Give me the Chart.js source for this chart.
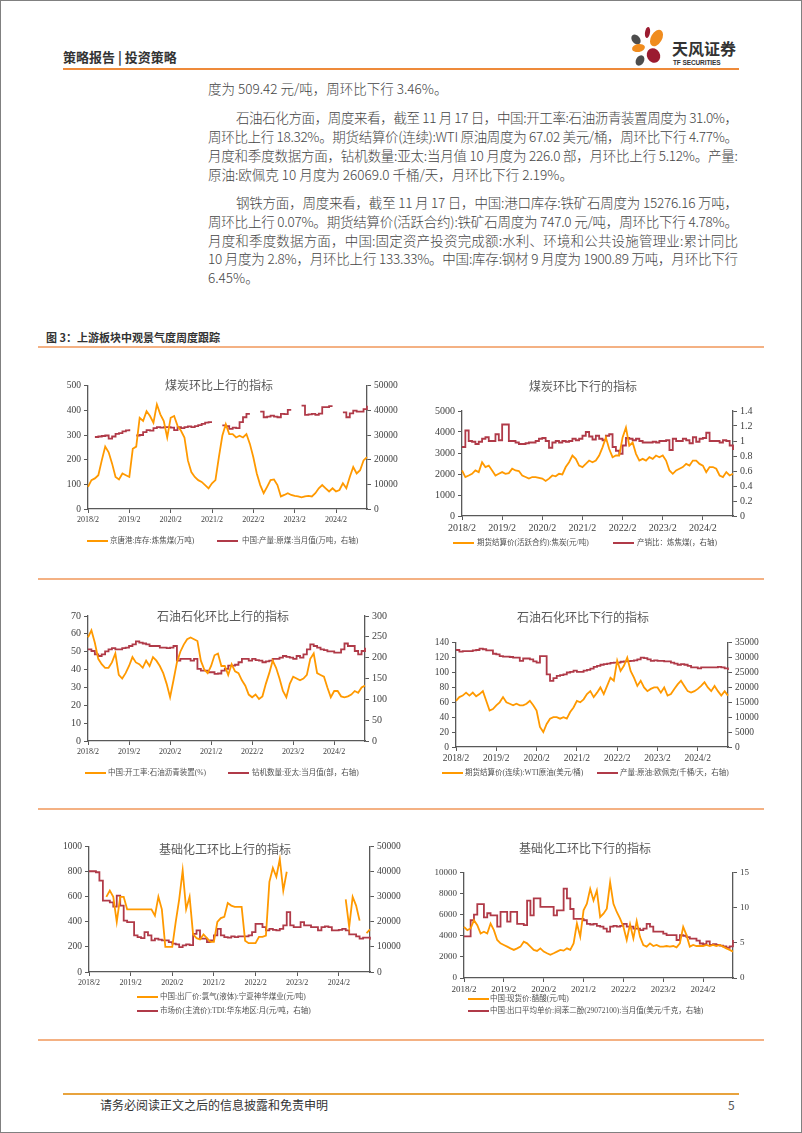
<!DOCTYPE html>
<html>
<head>
<meta charset="utf-8">
<script src="https://cdn.jsdelivr.net/npm/chart.js@4.4.0/dist/chart.umd.min.js"></script>
<style>
body { margin: 0; background: #fff; }
#page { position: relative; width: 802px; height: 1133px; overflow: hidden; background: #fff; font-family: "Noto Sans CJK SC", sans-serif; }
#frame { position: absolute; left: 0; top: 0; right: 0; bottom: 0; border: 1px solid #808080; pointer-events: none; }
.ln { position: absolute; height: 20px; line-height: 20px; font-size: 13.5px; font-weight: 300; color: #454545; white-space: nowrap; }
.title { position: absolute; transform: translate(-50%, -50%); font-family: "Liberation Serif", "Noto Sans CJK SC", serif; font-size: 12px; color: #595959; white-space: nowrap; }
.lgl { position: absolute; width: 21px; height: 2px; }
.lgt { position: absolute; font-family: "Liberation Serif", "Noto Sans CJK SC", serif; font-size: 7.5px; line-height: 10px; color: #505050; white-space: nowrap; }
.rule { position: absolute; left: 38px; width: 726px; height: 1.5px; background: #F4B183; }
.petal { position: absolute; border-radius: 50%; }
canvas { position: absolute; }
</style>
</head>
<body>
<div id="page">
  <!-- 页眉 -->
  <div style="position:absolute;left:63px;top:48px;font-size:13px;font-weight:700;color:#333;line-height:18px;">策略报告 | 投资策略</div>
  <div class="petal" style="left:632px;top:34px;width:8px;height:11px;background:#4d4d4d;transform:rotate(-40deg);"></div>
  <div class="petal" style="left:645px;top:27px;width:5px;height:11px;background:#9b1b30;transform:rotate(10deg);"></div>
  <div class="petal" style="left:651px;top:29px;width:11px;height:18px;background:#f08c1e;transform:rotate(30deg);"></div>
  <div class="petal" style="left:632px;top:44px;width:13px;height:8px;background:#f08c1e;transform:rotate(-10deg);"></div>
  <div class="petal" style="left:647px;top:48px;width:13px;height:15px;background:#9b1b30;transform:rotate(-30deg);"></div>
  <div class="petal" style="left:636px;top:55px;width:8px;height:11px;background:#4d4d4d;transform:rotate(30deg);"></div>
  <div style="position:absolute;left:672px;top:38px;font-size:16px;font-weight:700;color:#333;line-height:20px;">天风证券</div>
  <div style="position:absolute;left:673px;top:59px;font-family:'Liberation Sans',sans-serif;font-size:6.5px;font-weight:700;color:#333;line-height:8px;letter-spacing:-0.1px;">TF SECURITIES</div>
  <div style="position:absolute;left:63px;top:68px;width:676px;height:2px;background:#EE8A3A;"></div>

  <!-- 正文 -->
  <div class="ln" style="left:208px;top:78px;width:530px;"><span>度为 509.42 元/吨，周环比下行 3.46%。</span></div>
  <div class="ln j" style="left:236px;top:107px;width:502px;"><span>石油石化方面，周度来看，截至 11 月 17 日，中国:开工率:石油沥青装置周度为 31.0%，</span></div>
  <div class="ln j" style="left:208px;top:126px;width:530px;"><span>周环比上行 18.32%。期货结算价(连续):WTI 原油周度为 67.02 美元/桶，周环比下行 4.77%。</span></div>
  <div class="ln j" style="left:208px;top:145px;width:530px;"><span>月度和季度数据方面，钻机数量:亚太:当月值 10 月度为 226.0 部，月环比上行 5.12%。产量:</span></div>
  <div class="ln" style="left:208px;top:164px;width:530px;"><span>原油:欧佩克 10 月度为 26069.0 千桶/天，月环比下行 2.19%。</span></div>
  <div class="ln j" style="left:236px;top:192px;width:502px;"><span>钢铁方面，周度来看，截至 11 月 17 日，中国:港口库存:铁矿石周度为 15276.16 万吨，</span></div>
  <div class="ln j" style="left:208px;top:211px;width:530px;"><span>周环比上行 0.07%。期货结算价(活跃合约):铁矿石周度为 747.0 元/吨，周环比下行 4.78%。</span></div>
  <div class="ln j" style="left:208px;top:230px;width:530px;"><span>月度和季度数据方面，中国:固定资产投资完成额:水利、环境和公共设施管理业:累计同比</span></div>
  <div class="ln j" style="left:208px;top:248px;width:530px;"><span>10 月度为 2.8%，月环比上行 133.33%。中国:库存:钢材 9 月度为 1900.89 万吨，月环比下行</span></div>
  <div class="ln" style="left:208px;top:267px;width:530px;"><span>6.45%。</span></div>

  <!-- 图 3 -->
  <div style="position:absolute;left:46px;top:329px;font-size:11px;font-weight:700;color:#333;line-height:16px;">图 3：上游板块中观景气度周度跟踪</div>
  <div class="rule" style="top:346px;"></div>
  <div class="rule" style="top:578px;"></div>
  <div class="rule" style="top:808px;"></div>
  <div class="rule" style="top:1039px;"></div>

  <canvas id="c1" width="359" height="156" style="left:48px;top:377px;"></canvas>
  <canvas id="c2" width="351" height="138" style="left:422px;top:402px;"></canvas>
  <canvas id="c3" width="357" height="158" style="left:48px;top:607px;"></canvas>
  <canvas id="c4" width="352" height="137" style="left:416px;top:634px;"></canvas>
  <canvas id="c5" width="361" height="158" style="left:49px;top:838px;"></canvas>
  <canvas id="c6" width="349" height="138" style="left:424px;top:864px;"></canvas>

  <div class="title" style="left:219px;top:385px;">煤炭环比上行的指标</div>
  <div class="title" style="left:583px;top:386px;">煤炭环比下行的指标</div>
  <div class="title" style="left:223px;top:616px;">石油石化环比上行的指标</div>
  <div class="title" style="left:583px;top:617px;">石油石化环比下行的指标</div>
  <div class="title" style="left:225px;top:849px;">基础化工环比上行的指标</div>
  <div class="title" style="left:585px;top:848px;">基础化工环比下行的指标</div>

  <!-- 图例 -->
  <div class="lgl" style="left:87px;top:540px;background:#FF9900;"></div>
  <div class="lgt" style="left:110px;top:536px;">京唐港:库存:炼焦煤(万吨)</div>
  <div class="lgl" style="left:217px;top:540px;background:#B03A48;"></div>
  <div class="lgt" style="left:242px;top:536px;">中国:产量:原煤:当月值(万吨，右轴)</div>

  <div class="lgl" style="left:453px;top:542px;background:#FF9900;"></div>
  <div class="lgt" style="left:477px;top:538px;">期货结算价(活跃合约):焦炭(元/吨)</div>
  <div class="lgl" style="left:613px;top:542px;background:#B03A48;"></div>
  <div class="lgt" style="left:637px;top:538px;">产销比：炼焦煤(，右轴)</div>

  <div class="lgl" style="left:85px;top:772px;background:#FF9900;"></div>
  <div class="lgt" style="left:108px;top:768px;">中国:开工率:石油沥青装置(%)</div>
  <div class="lgl" style="left:228px;top:772px;background:#B03A48;"></div>
  <div class="lgt" style="left:252px;top:768px;">钻机数量:亚太:当月值(部，右轴)</div>

  <div class="lgl" style="left:442px;top:772px;background:#FF9900;"></div>
  <div class="lgt" style="left:465px;top:768px;">期货结算价(连续):WTI原油(美元/桶)</div>
  <div class="lgl" style="left:597px;top:772px;background:#B03A48;"></div>
  <div class="lgt" style="left:620px;top:768px;">产量:原油:欧佩克(千桶/天，右轴)</div>

  <div class="lgl" style="left:137px;top:996px;background:#FF9900;"></div>
  <div class="lgt" style="left:160px;top:992px;">中国:出厂价:氯气(液体):宁夏神华煤业(元/吨)</div>
  <div class="lgl" style="left:137px;top:1010px;background:#B03A48;"></div>
  <div class="lgt" style="left:160px;top:1006px;">市场价(主流价):TDI:华东地区:月(元/吨，右轴)</div>

  <div class="lgl" style="left:468px;top:998px;background:#FF9900;"></div>
  <div class="lgt" style="left:490px;top:994px;">中国:现货价:醋酸(元/吨)</div>
  <div class="lgl" style="left:468px;top:1010px;background:#B03A48;"></div>
  <div class="lgt" style="left:490px;top:1006px;">中国:出口平均单价:间苯二酚(29072100):当月值(美元/千克，右轴)</div>

  <!-- 页脚 -->
  <div style="position:absolute;left:63px;top:1093px;width:676px;height:2px;background:#E8A33D;"></div>
  <div style="position:absolute;left:100px;top:1096px;font-size:12px;color:#333;line-height:18px;">请务必阅读正文之后的信息披露和免责申明</div>
  <div style="position:absolute;left:728px;top:1096px;font-size:12px;color:#555;line-height:18px;">5</div>
  <div id="frame"></div>
</div>

<script>
// 月份标签：2018/2 至 2024/11
var months = [];
for (var yy = 2018, mm = 2; months.length < 82; ) {
    months.push(yy + '/' + mm);
    mm++;
    if (mm > 12) { mm = 1; yy++; }
}

// 煤炭环比上行
var coalUpStock = [
    90, 117, 124, 137, 197, 253, 230, 184, 130, 120, 144,
    137, 130, 244, 253, 370, 357, 397, 377, 350, 424, 384, 357,
    290, 370, 377, 337, 317, 290, 197, 150, 130, 117, 110, 97,
    84, 104, 117, 210, 297, 344, 304, 304, 290, 297, 290, 304,
    264, 210, 144, 97, 64, 90, 117, 120, 97, 51, 57, 64,
    57, 53, 51, 47, 51, 53, 51, 64, 84, 97, 84, 71,
    84, 71, 77, 104, 84, 130, 170, 144, 157, 197, 210
];
var coalUpOutput = [
    null, null, 29200, 29400, 29600, 29800, 28500, 29400, 30500, 30800, 31500,
    31900, 32300, null, 29800, 30000, 31200, 32000, 31800, 32800, 33200, 33000, 33200,
    33200, 33000, 32000, 33200, 32800, 33200, 33500, 33200, 33600, 34000, 34500, 35000,
    35200, 35200, null, null, 33900, 33600, 32500, 33000, 32800, 35200, 37200, 38600,
    38600, null, null, 39500, 37200, 37500, 37900, 37500, 37200, 38600, 38500, 40200,
    40200, null, null, 41900, 38200, 38400, 38600, 38200, 38700, 41300, 41300, 41700,
    41700, null, null, 39200, 37200, 38800, 39900, 39500, 39500, 40500, 41900
];
var coalUpLeftTicks = [0, 500, 100];
var coalUpRightTicks = [0, 50000, 10000];

// 煤炭环比下行
var coalDownFutures = [
    2170, 1855, 1930, 2010, 2170, 2090, 2560, 2330, 2400, 2170, 1930,
    2010, 2090, 2010, 2040, 2250, 2170, 2140, 1930, 1855, 1780, 1855, 1855,
    1820, 1780, 1670, 1780, 1930, 1890, 2010, 1980, 2330, 2560, 2880, 2720,
    2400, 2330, 2480, 2640, 2560, 2640, 2880, 3270, 3740, 3190, 2800, 2880,
    2880, 3740, 4210, 3350, 3500, 2960, 2640, 2720, 2640, 2800, 2720, 2880,
    2800, 2880, 2640, 2170, 2010, 2170, 2250, 2330, 2480, 2400, 2640, 2640,
    2480, 2400, 2090, 2330, 2330, 2250, 1930, 1855, 2090, 1930, 2010
];
var coalDownRatio = [
    0.92, 1.14, 1.00, 0.99, 0.96, 0.99, 1.03, 1.05, 1.00, 1.00, 1.09,
    1.01, 1.22, 1.22, 1.00, 1.00, 0.98, 0.96, 0.96, 0.97, 0.98, 0.98, 1.00,
    1.03, 1.04, 1.00, 0.91, 0.98, 1.00, 0.98, 1.00, 0.99, 1.00, 1.03, 1.01,
    1.03, 1.07, 1.12, 1.06, 1.02, 1.07, 1.03, 1.01, 1.07, 1.09, 0.92, 0.87,
    0.83, 0.94, 1.04, 1.03, 1.01, 1.03, 1.00, 0.98, 0.98, 0.98, 0.99, 0.98,
    1.00, 1.00, 1.01, 0.88, 1.03, 1.00, 1.00, 1.03, 1.01, 0.97, 1.05, 0.99,
    1.03, 1.04, 1.11, 1.00, 1.00, 1.00, 0.98, 1.01, 1.00, 0.94, 0.88
];
var coalDownLeftTicks = [0, 5000, 1000];
var coalDownRightTicks = [0, 1.4, 0.2];

// 石油石化环比上行
var oilUpAsphalt = [
    58, 62, 55, 46, 43, 41, 41, 44, 49, 37, 35,
    38, 42, 47, 44, 43, 41, 45, 42, 47, 45, 42, 38,
    32, 24.5, 34, 44, 50, 54, 57, 58, 57, 56, 45, 40,
    38, 42, 48, 49, 42, 42, 37, 43, 39, 38, 34, 31,
    26, 24.5, 26, 23.5, 25, 32, 38, 45, 41, 35, 28, 24.5,
    32, 36, 35, 34, 35, 37, 46, 49, 38, 37, 36, 30,
    24.5, 28, 28, 25, 24.5, 25, 26, 28, 27, 30, 31
];
var oilUpRigs = [
    220, 216, 208, 204, 208, 215, 220, 223, 220, 220, 223,
    224, 228, 232, 239, 236, 234, 232, 228, 228, 228, 224, 224,
    223, 224, 228, 193, 197, 197, 197, 193, 197, 173, 169, 169,
    165, 165, 161, 162, 169, 173, 181, 181, 183, 189, 197, 197,
    193, 197, 194, 193, 189, 191, 193, 197, 197, 200, 204, 202,
    200, 197, 204, 200, 208, 220, 232, 228, 224, 220, 218, 215,
    215, 212, 212, 220, 234, 228, 228, 216, 208, 216, 224
];
var oilUpLeftTicks = [0, 70, 10];
var oilUpRightTicks = [0, 300, 50];

// 石油石化环比下行
var oilDownWti = [
    62, 67, 69, 73, 69, 73, 68, 71, 75, 62, 49,
    51, 56, 60, 67, 60, 58, 56, 58, 56, 56, 58, 62,
    56, 49, 27, 20, 31, 38, 40, 40, 38, 40, 38, 47,
    53, 62, 60, 64, 71, 75, 67, 73, 80, 71, 82, 93,
    89, 116, 102, 109, 120, 102, 93, 82, 89, 80, 75, 78,
    80, 80, 73, 80, 69, 71, 78, 84, 89, 82, 75, 73,
    75, 78, 82, 87, 80, 75, 82, 75, 69, 75, 69
];
var oilDownOpec = [
    32550, 32000, 32200, 32200, 32200, 32400, 32550, 33000, 32800, 32400, 32400,
    31300, 31100, 30500, 30300, 30300, 30200, 30000, 30000, 28900, 29700, 29700, 29400,
    28700, 28300, 30500, 30500, 24400, 22200, 23100, 23900, 24100, 24400, 25000, 25200,
    25600, 25200, 25200, 25600, 25900, 26300, 26900, 27200, 27600, 27800, 28000, 28200,
    28300, 28300, 28600, 28700, 28800, 28900, 29100, 29400, 30000, 29800, 29400, 28900,
    29100, 28900, 28900, 28700, 28700, 28300, 28000, 27600, 27800, 27600, 27200, 26700,
    26700, 26400, 26700, 26700, 26700, 26700, 26700, 26900, 26700, 26400, 25800
];
var oilDownLeftTicks = [0, 140, 20];
var oilDownRightTicks = [0, 35000, 5000];

// 基础化工环比上行
var chemUpChlorine = [
    null, null, null, null, null, 600, 650, 600, 400, 600, 600,
    500, 500, 500, 500, 500, 500, 500, 500, 450, 600, 500, 200,
    200, 200, 400, 580, 810, 500, 600, 300, 270, 260, 300, 270,
    240, 240, 400, 430, 440, 550, 530, 520, 520, 520, 250, 230,
    230, 230, 280, 280, 290, 720, 830, 760, 900, 650, 800, null,
    null, null, null, null, null, null, null, null, null, null, null, null,
    null, null, null, 580, 360, 600, 530, 410, null, 310, 340
];
var chemUpTdi = [
    40200, 40200, 39800, 36500, 28500, 28500, 27800, 26100, 30500, 26500, 20500,
    19900, 19900, 14600, 13900, 13500, 15900, 14600, 12600, 13300, 12900, 12600, 12600,
    11900, 11300, 11000, 9900, 10600, 11000, 10700, 15200, 16600, 13300, 13300, 11900,
    12600, 14600, 17200, 14600, 13900, 13700, 14200, 13900, 14200, 14200, 14200, 14600,
    15900, 19200, 19200, 17900, 16600, 17200, 16800, 16600, 17200, 18600, 23900, 18600,
    17900, 17900, 19900, 18600, 18600, 17900, 17900, 16600, 17900, 18200, 17900, 16600,
    16600, 16800, 17200, 16600, 15000, 15000, 14200, 13300, 13700, 13700, 12900
];
var chemUpLeftTicks = [0, 1000, 200];
var chemUpRightTicks = [0, 50000, 10000];

// 基础化工环比下行
var chemDownAcetic = [
    4840, 4530, 4690, 5470, 5000, 4220, 4375, 4220, 5160, 4530, 3600,
    3280, 3125, 2970, 2810, 2660, 2810, 2970, 3440, 3280, 2970, 2660, 2560,
    2810, 2500, 2340, 2190, 2340, 2500, 2660, 2590, 2810, 2660, 3280, 5160,
    3910, 6410, 7030, 8440, 7340, 8280, 5780, 6090, 6560, 9060, 7030, 6250,
    5630, 4840, 3600, 5100, 3750, 5400, 3900, 3125, 2970, 3280, 3030, 3125,
    2970, 2970, 3030, 2970, 3030, 2900, 3280, 4840, 4060, 2970, 3125, 3030,
    3030, 3030, 3125, 3030, 3125, 3030, 3125, 2970, 2810, 2660, 2500
];
var chemDownResorcinol = [
    5.9, 5.9, 8.2, 9.0, 10.5, 10.5, 8.6, 9.2, 8.9, 8.9, 7.3,
    9.4, 9.4, 8.0, 9.4, 9.4, 7.7, 7.7, 7.5, 11.0, 8.9, 11.3, 11.3,
    10.1, 10.1, 10.1, 10.1, 8.9, 9.6, 9.6, 12.7, 11.3, 9.8, 8.4, 8.4,
    8.4, 8.2, 7.7, 7.6, 7.7, 7.4, 7.3, 7.0, 6.6, 7.3, 7.4, 7.3,
    7.4, 7.7, 7.3, 7.3, 7.0, 7.0, 6.8, 7.0, 7.7, 7.3, 6.6, 6.6,
    6.6, 6.3, 6.1, 6.1, 6.1, 5.4, 6.1, 6.0, 5.8, 5.6, 5.6, 5.3,
    4.9, 4.8, 5.2, 4.7, 4.8, 4.7, 4.6, 4.5, 4.3, 4.5, 5.4
];
var chemDownLeftTicks = [0, 10000, 2000];
var chemDownRightTicks = [0, 15, 5];

var ORANGE = '#FF9900';
var RED = '#B03A48';
var AXIS = '#595959';
var NUM_FONT = "'Liberation Serif', 'Times New Roman', serif";

// 正文对齐：用字距把每行撑满
document.querySelectorAll('.ln').forEach(function (el) {
    var span = el.firstChild;
    var w = span.getBoundingClientRect().width;
    var target = parseFloat(el.style.width);
    var n = span.textContent.length;
    if (el.classList.contains('j') || w > target) {
        span.style.letterSpacing = ((target - w) / (n - 1)) + 'px';
    }
});

function isFeb(i) {
    return months[i] !== undefined && months[i].slice(-2) === '/2';
}

function yAxis(pos, t, size) {
    return {
        position: pos,
        min: t[0],
        max: t[1],
        border: { display: true, color: AXIS, width: 1.3 },
        grid: { drawOnChartArea: false, drawTicks: true, tickLength: 4, color: AXIS },
        ticks: {
            stepSize: t[2],
            padding: 3,
            color: '#404040',
            font: { family: NUM_FONT, size: size },
            callback: function (v) { return String(Math.round(v * 10) / 10); }
        },
        afterFit: function (s) { s.width = 40; }
    };
}

function drawPanel(id, p) {
    var ctx = document.getElementById(id).getContext('2d');
    return new Chart(ctx, {
        type: 'line',
        data: {
            labels: months,
            datasets: [
                { data: p.left, yAxisID: 'y', borderColor: ORANGE, borderWidth: 1.8, pointRadius: 0, tension: 0 },
                { data: p.right, yAxisID: 'y1', borderColor: RED, borderWidth: 1.8, pointRadius: 0, stepped: true }
            ]
        },
        options: {
            responsive: false,
            animation: false,
            devicePixelRatio: 1,
            layout: { padding: { top: 8, left: 0, right: 0, bottom: 0 } },
            plugins: { legend: { display: false }, tooltip: { enabled: false } },
            scales: {
                x: {
                    border: { display: true, color: AXIS, width: 1.3 },
                    grid: {
                        drawOnChartArea: false,
                        drawTicks: true,
                        tickLength: 4,
                        color: function (c) { return isFeb(c.index) ? AXIS : 'rgba(0,0,0,0)'; }
                    },
                    ticks: {
                        autoSkip: false,
                        maxRotation: 0,
                        minRotation: 0,
                        padding: 2,
                        color: '#404040',
                        font: { family: NUM_FONT, size: p.xSize },
                        callback: function (v, i) { return isFeb(i) ? months[i] : ''; }
                    },
                    afterFit: function (s) { s.height = 24; }
                },
                y: yAxis('left', p.leftTicks, p.ySize),
                y1: yAxis('right', p.rightTicks, p.ySize)
            }
        }
    });
}

drawPanel('c1', { left: coalUpStock, right: coalUpOutput, leftTicks: coalUpLeftTicks, rightTicks: coalUpRightTicks, xSize: 8, ySize: 9.5 });
drawPanel('c2', { left: coalDownFutures, right: coalDownRatio, leftTicks: coalDownLeftTicks, rightTicks: coalDownRightTicks, xSize: 10, ySize: 10 });
drawPanel('c3', { left: oilUpAsphalt, right: oilUpRigs, leftTicks: oilUpLeftTicks, rightTicks: oilUpRightTicks, xSize: 8, ySize: 10 });
drawPanel('c4', { left: oilDownWti, right: oilDownOpec, leftTicks: oilDownLeftTicks, rightTicks: oilDownRightTicks, xSize: 9.5, ySize: 9.5 });
drawPanel('c5', { left: chemUpChlorine, right: chemUpTdi, leftTicks: chemUpLeftTicks, rightTicks: chemUpRightTicks, xSize: 8, ySize: 9.5 });
drawPanel('c6', { left: chemDownAcetic, right: chemDownResorcinol, leftTicks: chemDownLeftTicks, rightTicks: chemDownRightTicks, xSize: 9, ySize: 9 });
</script>
</body>
</html>
